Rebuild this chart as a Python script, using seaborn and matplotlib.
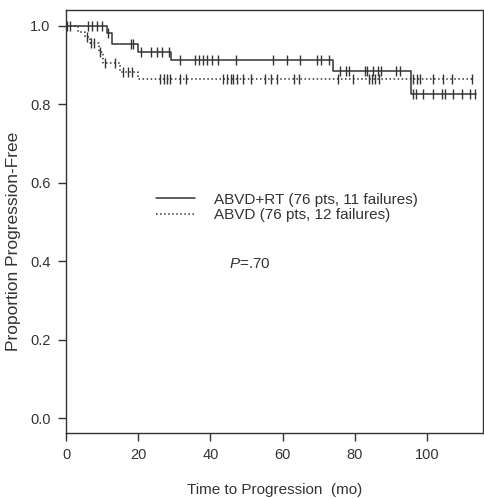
import numpy as np
import pandas as pd
import matplotlib
matplotlib.use("Agg")
import matplotlib.pyplot as plt
import seaborn as sns

# Kaplan-Meier steps (months, proportion progression-free)
rt_fail_t = [11.3, 12.7, 20.0, 29.0, 74.0, 95.6]
rt_surv = [0.981, 0.953, 0.934, 0.912, 0.885, 0.825]
rt_end = 113.5
rt_censor = [0.4, 1.1, 6.2, 7.3, 8.5, 9.9, 11.7, 18.0, 18.6, 20.8, 23.5, 25.1,
             26.7, 28.5, 31.6, 35.7, 36.8, 37.9, 39.0, 40.3, 42.2, 47.1, 57.4,
             61.3, 64.8, 69.4, 70.5, 72.9, 75.8, 77.5, 78.4, 82.8, 83.5, 85.0,
             86.5, 87.2, 91.4, 92.5, 96.2, 96.9, 99.0, 101.7, 104.0, 104.9,
             107.3, 109.6, 111.9, 113.3]

abvd_fail_t = [3.2, 5.3, 6.6, 9.0, 10.3, 15.0, 19.9]
abvd_surv = [0.983, 0.970, 0.955, 0.934, 0.904, 0.883, 0.864]
abvd_end = 112.8
abvd_censor = [5.7, 6.9, 7.8, 9.4, 10.8, 13.6, 15.9, 17.3, 18.4, 26.0, 27.0,
               28.0, 28.8, 31.6, 33.2, 43.6, 44.5, 45.6, 46.3, 47.4, 48.9,
               51.2, 55.1, 56.9, 58.5, 63.2, 64.6, 75.2, 79.6, 84.0, 84.7,
               85.6, 86.8, 96.2, 97.1, 98.0, 101.7, 104.5, 106.8, 112.4]

labels = ["ABVD+RT (76 pts, 11 failures)", "ABVD (76 pts, 12 failures)"]
x_ticks = [0, 20, 40, 60, 80, 100]
y_ticks = [0.0, 0.2, 0.4, 0.6, 0.8, 1.0]


def km_frame(fail_t, surv, end):
    return pd.DataFrame({"t": [0] + fail_t + [end],
                         "s": [1.0] + surv + [surv[-1]]})


def censor_frame(fail_t, surv, times):
    levels = np.array([1.0] + surv)
    idx = np.searchsorted(fail_t, times, side="right")
    return pd.DataFrame({"t": times, "s": levels[idx]})


sns.set_style("ticks")
plt.rcParams["font.family"] = ["Liberation Sans", "DejaVu Sans"]
plt.rcParams["mathtext.fontset"] = "custom"
plt.rcParams["mathtext.it"] = "Liberation Sans:italic"
plt.rcParams["mathtext.rm"] = "Liberation Sans"

ink = "#333333"
fig = plt.figure(figsize=(4.84, 4.98), dpi=100)
ax = fig.add_axes([0.1364, 0.1305, 0.8616, 0.8494])

styles = [("-", 1.1), (":", 1.1)]
groups = [(rt_fail_t, rt_surv, rt_end, rt_censor),
          (abvd_fail_t, abvd_surv, abvd_end, abvd_censor)]
for (ls, lw), (ft, sv, end, cen), lab in zip(styles, groups, labels):
    km = km_frame(ft, sv, end)
    sns.lineplot(data=km, x="t", y="s", ax=ax, color=ink, linestyle=ls,
                 linewidth=lw, drawstyle="steps-post", label=lab, sort=False)
    cf = censor_frame(ft, sv, cen)
    sns.scatterplot(data=cf, x="t", y="s", ax=ax, marker="|", s=55,
                    color=ink, linewidth=1.0, legend=False)

h, l = ax.get_legend_handles_labels()
ax.legend(h, l, loc="center left", bbox_to_anchor=(0.216, 0.533),
          frameon=False, fontsize=11, handlelength=2.55, handletextpad=1.25,
          borderpad=0, borderaxespad=0, labelspacing=0.1, labelcolor=ink)

ax.text(0.392, 0.40, "$P$=.70", transform=ax.transAxes, fontsize=11,
        color=ink, va="center", ha="left")

ax.set_xlim(0, 115.5)
ax.set_ylim(-0.038, 1.04)
ax.set_xticks(x_ticks)
ax.set_yticks(y_ticks)
ax.set_yticklabels([f"{v:.1f}" for v in y_ticks])
ax.tick_params(axis="both", labelsize=10.5, colors=ink, length=6, width=1,
               direction="out", pad=5)
for sp in ax.spines.values():
    sp.set_color(ink)
    sp.set_linewidth(1.0)

ax.set_xlabel("Time to Progression  (mo)", fontsize=11, color=ink, labelpad=15)
ax.set_ylabel("Proportion Progression-Free", fontsize=12.5, color=ink)
ax.yaxis.set_label_coords(-0.107, 0.453)

fig.savefig("out.png", dpi=100)
